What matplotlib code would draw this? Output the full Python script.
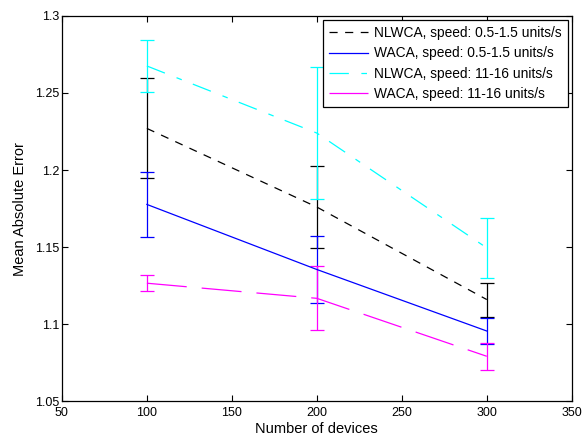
import matplotlib
matplotlib.use("Agg")
import matplotlib.pyplot as plt
from matplotlib.lines import Line2D

plt.rcParams["font.family"] = ["Liberation Sans", "DejaVu Sans"]

# data
devices = [100, 200, 300]
labels = ["NLWCA, speed: 0.5-1.5 units/s", "WACA, speed: 0.5-1.5 units/s",
          "NLWCA, speed: 11-16 units/s", "WACA, speed: 11-16 units/s"]
nlwca_slow = [1.227, 1.176, 1.116]
nlwca_slow_err = [0.0324, 0.0265, 0.011]
waca_slow = [1.1777, 1.1355, 1.0956]
waca_slow_err = [0.021, 0.022, 0.0087]
nlwca_fast = [1.2675, 1.2240, 1.1495]
nlwca_fast_err = [0.0169, 0.0430, 0.0195]
waca_fast = [1.1266, 1.1168, 1.0792]
waca_fast_err = [0.0052, 0.0208, 0.0086]

# matlab-ish colours and dash patterns
series = [
    (nlwca_slow, nlwca_slow_err, "#000000", (0, (6.5, 6.0))),
    (waca_slow, waca_slow_err, "#0000ff", "-"),
    (nlwca_fast, nlwca_fast_err, "#00ffff", (0, (15.5, 10.0, 4.5, 9.5))),
    (waca_fast, waca_fast_err, "#ff00ff", (0, (32.0, 12.0))),
]

fig = plt.figure(figsize=(5.84, 4.41), dpi=100)
ax = fig.add_axes([0.106, 0.090, 0.873, 0.874])

handles = []
for (vals, err, col, ls), lab in zip(series, labels):
    ax.errorbar(devices, vals, yerr=err, color=col, ls=ls, lw=0.9,
                elinewidth=0.9, capsize=5, capthick=0.9)
    handles.append(Line2D([], [], color=col, ls=ls, lw=0.9, label=lab))

ax.set_xlim(50, 350)
ax.set_ylim(1.05, 1.3)
ax.set_xticks(range(50, 351, 50))
ax.set_yticks([1.05, 1.1, 1.15, 1.2, 1.25, 1.3])
ax.set_yticklabels(["1.05", "1.1", "1.15", "1.2", "1.25", "1.3"])
ax.tick_params(direction="in", top=True, right=True, labelsize=9,
               length=4, width=0.8)
ax.tick_params(axis="x", pad=4)
ax.tick_params(axis="y", pad=2)
for s in ax.spines.values():
    s.set_linewidth(0.9)
ax.set_xlabel("Number of devices", fontsize=10.5, labelpad=2)
ax.set_ylabel("Mean Absolute Error", fontsize=10.5, labelpad=6)

leg = ax.legend(handles=handles, loc="upper right", fontsize=9.9,
                frameon=True, fancybox=False, edgecolor="k", framealpha=1,
                borderaxespad=0.3, handlelength=2.8, labelspacing=0.45,
                handletextpad=0.45, borderpad=0.45)
leg.get_frame().set_linewidth(0.9)

fig.savefig("out.png", dpi=100)
